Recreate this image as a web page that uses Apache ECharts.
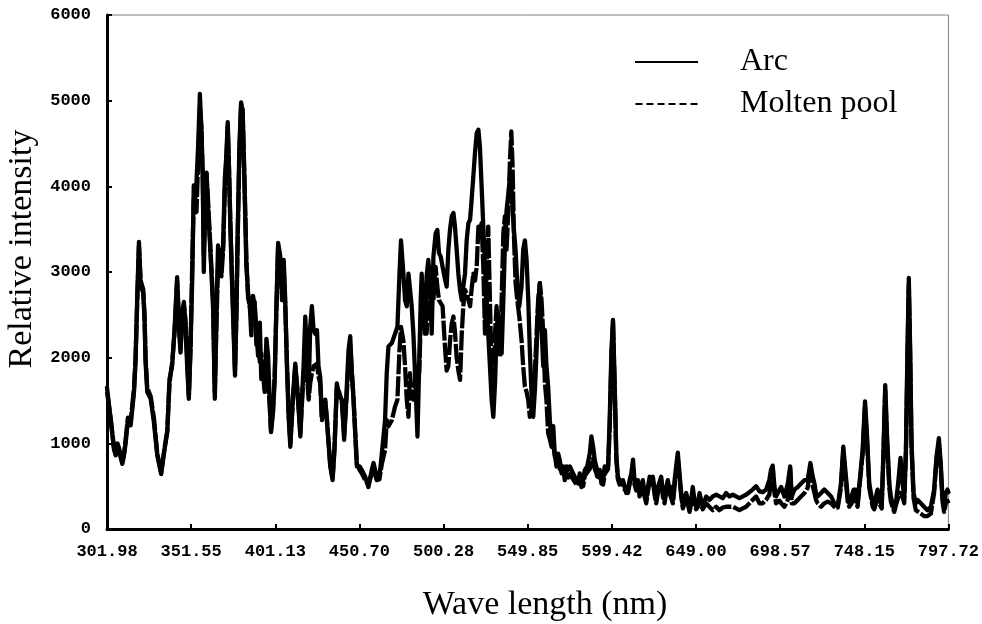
<!DOCTYPE html>
<html>
<head>
<meta charset="utf-8">
<script src="https://cdn.jsdelivr.net/npm/echarts@6/dist/echarts.min.js"></script>
<style>
html,body{margin:0;padding:0;background:#fff;}
#chart{width:982px;height:624px;}
</style>
</head>
<body>
<div id="chart"></div>
<script>
// Wavelength (nm) sample positions and intensities, in five spectral regions
const nm1 = [302.0,304.1,306.1,307.1,308.1,309.0,310.2,311.0,312.0,313.0,314.3,315.9,317.9,318.8,319.8,320.8,321.8,323.3,324.1,324.7,325.7,327.7,329.6,331.6,333.9,335.9,337.5,338.8,340.4,341.8,343.3,344.5,345.3,346.3,347.3,348.2,349.2,350.2,351.2,352.2,353.1,353.5,354.7,355.7,356.7,357.6,358.4,359.0,359.8,360.6,361.6,362.5,363.5,364.5,365.5,366.5,367.4,368.4,369.4,370.4,371.4,372.3,373.1,373.9,374.7,375.7,376.7,377.4,378.2,379.0,380.0,381.0,381.9,382.9,384.1,385.1,386.1,387.0,388.0,389.0,390.0,391.0,392.0,392.9,393.9,394.9,395.9,396.9,397.8,398.6,399.8,400.8,401.7,402.8];
const arc1 = [1650,1280,930,860,990,930,820,760,860,1010,1270,1210,1600,1950,2720,3350,2840,2760,2450,1950,1600,1520,1250,860,640,930,1130,1750,1910,2340,2940,2300,2060,2530,2650,2370,1910,1520,2140,2920,4010,3700,4050,4480,5080,4670,4090,3000,3700,4160,3700,3390,3000,2570,1520,2530,3310,3150,3070,3310,4090,4360,4750,4160,3500,2840,2220,1790,2530,3500,4480,4980,4860,4090,3070,2760,2610,2260,2720,2610,2300,2020,2410,1750,1950,1630,2220,2020,1520,1130,1360,1750,2530,3340];
const pool1 = [1600,1300,950,880,1000,950,830,780,880,1050,1300,1250,1650,2000,2650,3300,2900,2800,2500,2000,1650,1550,1300,880,660,950,1150,1700,1950,2300,2900,2400,2100,2450,2600,2450,2000,1550,2100,3100,3850,3800,3700,4300,4900,4700,4100,3200,3900,4150,3800,3450,3050,2650,1600,2400,3100,3250,2950,3250,3950,4300,4700,4200,3550,2900,2300,1850,2450,3400,4400,4950,4900,4150,3150,2700,2700,2500,2400,2650,2150,2250,1950,2050,1800,1600,1900,1750,1450,1150,1400,1800,2500,3300];

const nm2 = [404.1,405.1,406.1,407.0,408.0,409.0,410.0,411.4,412.9,414.3,415.9,416.8,417.8,418.8,419.8,420.8,421.7,422.7,423.7,424.7,425.7,426.6,427.6,428.6,429.6,430.6,431.5,433.5,434.9,436.0,437.4,438.8,440.4,441.7,442.9,444.3,445.3,446.2,447.2,448.2,449.2,450.8,452.1,454.1,456.0,458.0,459.0,460.9,462.5,463.9,465.8,466.8,467.8,469.8,471.7,473.1,474.3,475.2,476.6,477.6,478.6,479.6,480.5,481.5,482.5,484.1,484.9,485.9,486.8,487.4,488.4,489.4,490.3,491.3,492.3,493.3,494.3,495.6,496.6,497.6,498.6,499.7];
const arc2 = [3180,2670,3140,2670,1900,1310,960,1510,1930,1580,1080,1510,1900,2480,2010,1580,2360,2600,2320,2280,2320,1900,1780,1310,1310,1510,1270,730,570,920,1700,1550,1510,1040,1510,2090,2250,1820,1510,1120,730,730,690,610,490,690,770,610,610,880,1270,1820,2130,2170,2280,2360,2980,3370,2980,2670,2600,2980,2980,2600,2280,1510,1080,1900,2670,2980,2480,2280,2950,3140,2830,2280,3180,3450,3490,3220,3180,3060];
const pool2 = [3100,2750,3050,2600,1950,1350,1000,1450,1900,1600,1120,1450,1800,1800,1780,1510,1700,1820,1900,1900,1930,1780,1700,1270,1350,1480,1300,760,600,950,1650,1600,1480,1100,1450,1950,2150,1850,1550,1150,760,690,650,570,520,650,700,570,580,760,920,1270,1200,1270,1430,1510,2090,2360,2200,1900,1510,1310,1820,1580,1510,1800,1900,1820,2400,2670,2830,2600,2280,2670,3060,2870,2670,3060,2830,2670,2670,2600];

const nm3 = [501.2,502.1,503.1,504.1,505.1,506.1,507.0,508.0,509.0,510.0,511.0,511.9,512.9,513.9,514.9,515.9,516.8,517.8,518.8,519.8,520.8,521.7,522.7,523.7,524.7,525.7,526.6,527.6,528.6,529.6,530.6,531.5,532.5,533.5,534.5,535.5,536.4,537.4,538.4,539.4,540.2,541.0,541.7,542.7,543.7,544.9,546.2,547.2,548.2,549.2,550.2,551.1,552.1,553.1,554.1,555.1,556.0,557.0,558.0,559.0,560.0,560.9,561.9,562.9,563.9,564.9,565.8,566.8,567.8,568.8,569.8,570.7,571.7,572.7,573.7,574.7,576.6,578.6,579.6,580.5,581.5,582.5,583.5,584.9,586.4,587.4,588.4,589.4,590.3,591.3,592.3,593.3,594.3,595.2,596.2,597.2,598.2,599.2,600.1,601.1];
const arc3 = [2910,2830,3260,3500,3650,3690,3530,3260,2980,2790,2670,2830,2980,3370,3570,3610,3840,4110,4390,4620,4660,4460,4000,3530,3060,2670,2280,1900,1510,1310,1700,2280,2520,2280,2050,2670,3300,3720,3900,4100,4050,3700,3500,3260,2870,2600,2830,3260,3370,3140,2670,2090,1580,1310,1620,2090,2600,2870,2360,1900,2320,1900,1660,1270,1000,1200,880,730,880,800,650,730,570,730,690,730,650,570,530,650,490,570,690,730,880,1080,960,800,730,610,690,530,570,730,690,730,1310,2090,2440,1700];
const pool3 = [2100,1850,1900,2200,2400,2480,2300,2000,1850,1740,2280,2600,2790,2750,2760,2600,2800,2980,2900,3060,3530,3450,3570,3060,2280,3060,3530,2670,1780,1500,2280,2600,2280,2010,2670,3450,3650,3260,3720,4300,4640,4200,3450,2870,2670,2480,2210,1900,1660,1600,1500,1310,1400,1660,1860,2280,2670,2870,2670,2280,1700,1500,1120,1050,960,1000,850,800,760,700,720,650,620,680,600,640,580,520,560,600,540,500,620,660,700,760,820,700,650,580,620,560,520,640,650,700,1200,2000,2420,1650];

const nm4 = [602.1,603.0,604.0,605.0,606.0,607.0,607.9,608.9,609.9,610.9,611.9,612.8,613.8,614.8,615.8,616.8,617.7,618.7,619.7,620.7,621.7,622.6,623.6,624.6,625.6,626.6,627.5,628.5,629.5,630.5,631.5,632.4,633.4,634.4,635.4,636.4,637.3,638.3,639.3,640.3,641.3,642.2,643.2,644.2,645.2,646.2,647.1,648.1,649.1,650.1,651.1,652.0,653.0,655.0,656.9,658.9,660.9,662.8,664.8,666.7,668.7,670.7,672.6,674.6,676.6,678.5,680.5,682.4,684.4,686.4,688.3,690.3,692.2,693.2,694.2,695.2,696.2];
const arc4 = [840,610,570,530,570,490,420,460,570,650,810,570,490,570,420,490,570,420,340,490,610,570,610,460,340,490,490,610,420,340,490,570,460,490,340,570,730,890,650,420,260,340,420,340,220,340,490,340,260,300,420,340,260,380,340,380,400,380,360,420,380,400,380,360,380,400,430,460,500,440,430,460,570,690,740,500,380];
const pool4 = [800,580,520,560,520,460,450,420,520,600,700,520,450,520,380,440,520,380,300,440,560,520,560,400,300,430,450,560,380,300,440,520,420,440,300,500,650,820,600,380,240,300,380,300,200,300,420,300,230,260,360,300,230,300,260,220,260,220,250,260,260,260,240,220,240,260,300,340,380,300,300,340,400,560,720,420,300];

const nm5 = [698.2,699.2,701.1,703.1,704.5,705.4,707.0,709.0,710.9,712.9,714.8,716.4,717.8,718.8,719.7,720.7,722.7,724.6,726.6,728.6,730.5,732.5,734.4,735.8,737.0,738.4,739.3,740.7,741.9,743.3,744.2,745.2,747.2,748.6,749.7,751.1,753.1,754.0,755.0,756.0,757.0,758.4,759.5,760.5,761.5,762.9,763.8,764.8,765.8,766.8,768.1,769.5,770.7,771.7,772.7,773.6,774.4,775.2,776.0,777.2,778.5,779.5,781.5,783.4,785.4,787.4,789.3,790.7,792.1,793.2,794.2,795.2,796.2,797.2,797.7];
const arc5 = [460,490,380,530,730,380,460,490,530,570,570,770,610,530,420,380,420,460,420,380,300,260,530,960,690,380,300,380,460,460,300,300,920,1490,1120,530,300,260,380,460,380,260,920,1680,1120,530,380,300,220,300,530,830,530,380,920,2090,2930,2090,1000,420,300,340,300,260,220,260,460,840,1060,770,380,260,420,460,430];
const pool5 = [330,300,260,340,700,300,300,340,380,420,480,740,500,420,340,300,260,300,320,300,260,250,480,900,620,320,260,300,380,300,260,280,880,1430,1050,480,260,230,300,330,300,240,880,1620,1050,480,320,260,200,280,360,420,380,300,880,2000,2850,2000,950,360,220,230,180,150,150,180,420,800,1000,720,330,200,300,330,300];

// Axis ticks
const xMin = 301.98, xMax = 797.72, xStep = 49.574;
const yMin = 0, yMax = 6000, yStep = 1000;
const seriesNames = ['Arc', 'Molten pool'];

const wavelength = nm1.concat(nm2, nm3, nm4, nm5);
const arcValues = arc1.concat(arc2, arc3, arc4, arc5);
const poolValues = pool1.concat(pool2, pool3, pool4, pool5);

const chart = echarts.init(document.getElementById('chart'), null, {renderer: 'canvas'});
const tickFont = {fontFamily: 'Liberation Mono', fontWeight: 'bold', fontSize: 17, color: '#000'};

chart.setOption({
  animation: false,
  backgroundColor: '#fff',
  grid: {left: 107, right: 31, top: 15, bottom: 95, show: true, borderColor: '#808080', borderWidth: 1},
  legend: {
    orient: 'vertical', left: 635, top: 45, padding: 0, itemWidth: 63, itemHeight: 2, itemGap: 8,
    textStyle: {fontFamily: 'Liberation Serif', fontSize: 32, lineHeight: 34, color: '#000', padding: [0, 0, 0, 37]},
    data: [
      {name: seriesNames[0], icon: 'rect'},
      {name: seriesNames[1], icon: 'path://M0,0h7v2h-7z M11,0h7v2h-7z M22,0h7v2h-7z M33,0h7v2h-7z M44,0h7v2h-7z M55,0h7v2h-7z'}
    ]
  },
  xAxis: {
    type: 'value', min: xMin, max: xMax, interval: xStep,
    axisLine: {show: true, lineStyle: {color: '#000', width: 3}},
    axisTick: {show: true, inside: true, length: 5, lineStyle: {color: '#000', width: 2}},
    splitLine: {show: false},
    axisLabel: Object.assign({margin: 14, formatter: v => v.toFixed(2)}, tickFont)
  },
  yAxis: {
    type: 'value', min: yMin, max: yMax, interval: yStep,
    axisLine: {show: true, lineStyle: {color: '#000', width: 3}},
    axisTick: {show: true, inside: true, length: 5, lineStyle: {color: '#000', width: 2}},
    splitLine: {show: false},
    axisLabel: Object.assign({margin: 16, formatter: v => String(v)}, tickFont)
  },
  graphic: [
    {type: 'text', x: 22, y: 249, rotation: Math.PI / 2,
     style: {text: 'Relative intensity', fontFamily: 'Liberation Serif', fontSize: 34, fill: '#000', align: 'center', verticalAlign: 'middle'}},
    {type: 'text', x: 545, y: 605,
     style: {text: 'Wave length (nm)', fontFamily: 'Liberation Serif', fontSize: 34, fill: '#000', align: 'center', verticalAlign: 'middle'}}
  ],
  series: [
    {name: seriesNames[0], type: 'line', symbol: 'none', smooth: false,
     lineStyle: {color: '#000', width: 4.3, type: 'solid', cap: 'round', join: 'round'}, itemStyle: {color: '#000'},
     data: wavelength.map((x, i) => [x, arcValues[i]])},
    {name: seriesNames[1], type: 'line', symbol: 'none', smooth: false,
     lineStyle: {color: '#000', width: 4.3, type: [20, 2], join: 'round'}, itemStyle: {color: '#000'},
     data: wavelength.map((x, i) => [x, poolValues[i]])}
  ]
});
</script>
</body>
</html>
